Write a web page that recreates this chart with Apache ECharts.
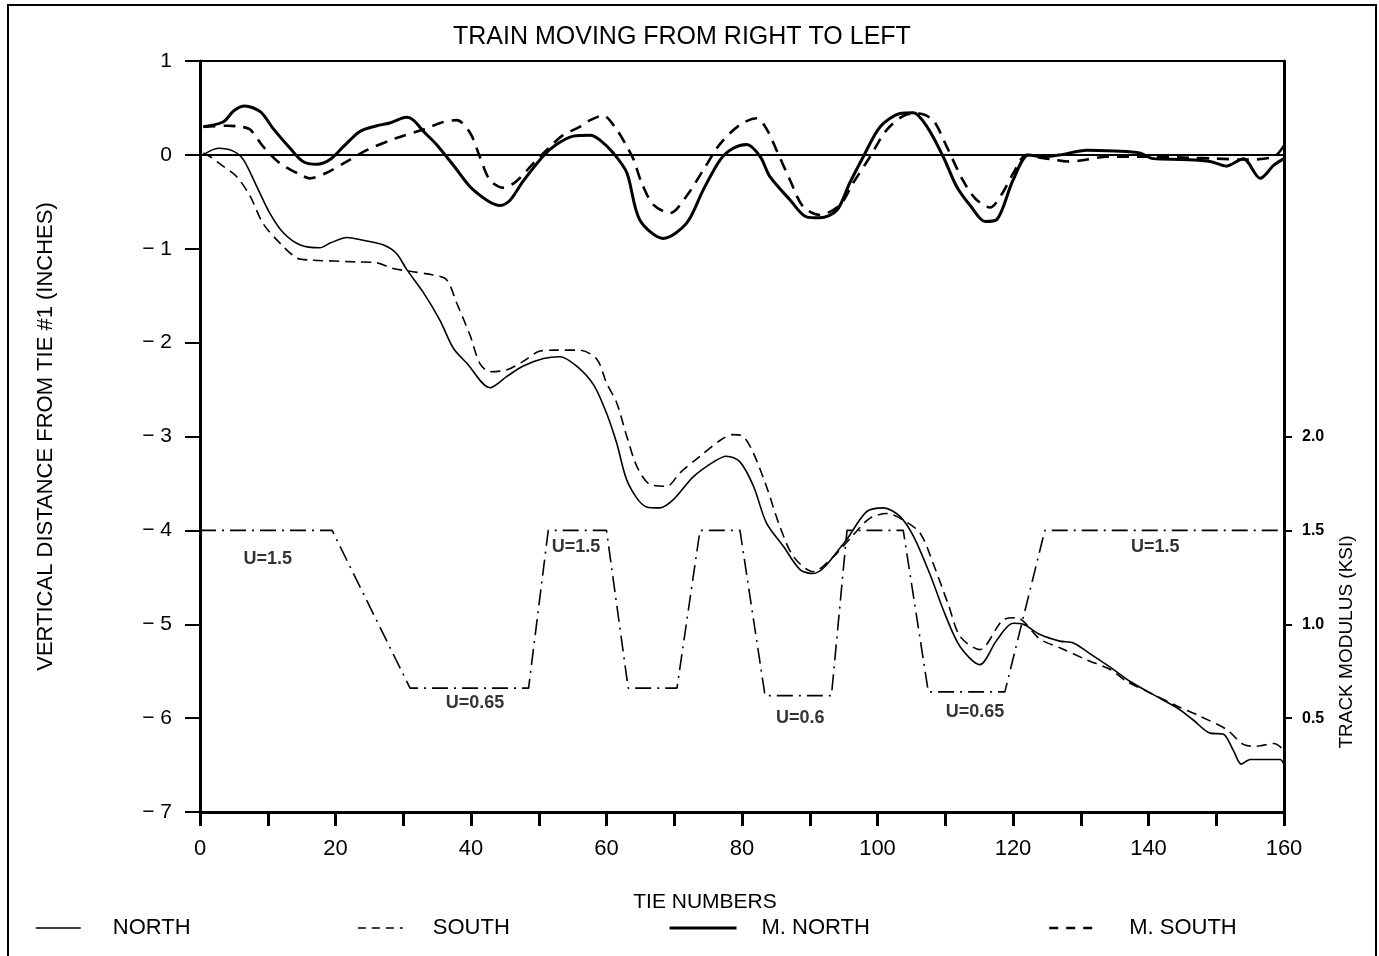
<!DOCTYPE html>
<html>
<head>
<meta charset="utf-8">
<script src="https://cdn.jsdelivr.net/npm/echarts@6/dist/echarts.min.js"></script>
<style>
  html, body { margin: 0; padding: 0; background: #fff; }
  #chart { width: 1379px; height: 956px; }
</style>
</head>
<body>
<div id="chart"></div>
<script>
// tie number / vertical distance (inches) pairs
var north = [[0.5, 0.0], [2.7, 0.07], [4.9, 0.04], [6.4, -0.05], [8.4, -0.34], [10.3, -0.62], [12.3, -0.83], [14.8, -0.96], [17.7, -0.99], [19.2, -0.94], [21.7, -0.88], [24.1, -0.91], [27.1, -0.96], [29, -1.05], [30.5, -1.22], [33, -1.47], [35.4, -1.76], [37.4, -2.06], [39.4, -2.22], [42.8, -2.48], [45.3, -2.36], [47.7, -2.25], [50.7, -2.17], [53.1, -2.15], [55.6, -2.25], [58.1, -2.45], [60, -2.75], [61.5, -3.07], [63.2, -3.5], [65.9, -3.75], [67.9, -3.76], [69.9, -3.67], [72.8, -3.43], [75.8, -3.27], [77.7, -3.21], [79.7, -3.27], [81.7, -3.53], [83.6, -3.92], [86.1, -4.17], [88.6, -4.42], [90.5, -4.46], [95, -4.14], [98.4, -3.8], [100.9, -3.76], [103.3, -3.85], [105.3, -4.06], [107.7, -4.46], [110, -4.9], [112.2, -5.24], [115.1, -5.43], [117.6, -5.17], [120, -4.99], [121.5, -5.0], [124, -5.11], [126.9, -5.18], [128.9, -5.2], [131.9, -5.34], [134.8, -5.48], [137.3, -5.61], [140.7, -5.75], [144.2, -5.89], [146.6, -6.02], [149.1, -6.16], [151, -6.17], [152.5, -6.34], [153.7, -6.49], [155, -6.44], [159.4, -6.44], [160, -6.49]]
var south = [[0.5, 0.02], [1.5, -0.02], [3.4, -0.12], [5.4, -0.23], [7.4, -0.44], [9.3, -0.73], [11.8, -0.94], [14.3, -1.1], [16.2, -1.12], [23.1, -1.14], [26.1, -1.15], [28.5, -1.21], [31, -1.24], [34.4, -1.28], [36.4, -1.33], [37.9, -1.58], [39.9, -1.93], [41.3, -2.22], [42.8, -2.31], [45.3, -2.29], [47.7, -2.2], [50.2, -2.09], [52.6, -2.08], [56.1, -2.08], [58.6, -2.18], [60, -2.43], [61.5, -2.64], [63, -3.0], [64.5, -3.32], [66.4, -3.51], [68.9, -3.53], [70.8, -3.39], [73.8, -3.21], [76.8, -3.04], [78.7, -2.98], [80.2, -3.0], [81.7, -3.18], [83.6, -3.53], [85.6, -3.96], [87.6, -4.28], [90.5, -4.44], [93.5, -4.28], [96.4, -4.05], [98.9, -3.87], [101.4, -3.82], [103.8, -3.89], [106.3, -4.03], [108.2, -4.35], [110.5, -4.8], [112.2, -5.13], [115.1, -5.27], [118.6, -4.95], [120.5, -4.93], [124, -5.16], [126.9, -5.25], [130.9, -5.38], [134.3, -5.48], [136.8, -5.61], [140.2, -5.73], [144.2, -5.87], [147.6, -5.98], [151.5, -6.12], [154, -6.28], [156, -6.3], [158.5, -6.27], [160, -6.34]]
var mNorth = [[0.5, 0.3], [3.4, 0.35], [5, 0.47], [6.6, 0.52], [8.9, 0.46], [10.8, 0.28], [13.3, 0.07], [15.2, -0.07], [17.2, -0.1], [19.2, -0.05], [21.2, 0.09], [23.6, 0.25], [26.1, 0.31], [28, 0.34], [30.5, 0.4], [31.5, 0.37], [33, 0.25], [34.9, 0.11], [37.4, -0.11], [40.3, -0.37], [44.3, -0.54], [45.8, -0.48], [47.7, -0.28], [50.7, -0.01], [52.6, 0.11], [55.1, 0.2], [57.6, 0.21], [59, 0.16], [61, 0.02], [63, -0.19], [64.9, -0.69], [68.4, -0.89], [71.8, -0.73], [74.3, -0.37], [76.8, -0.05], [78.7, 0.07], [80.7, 0.11], [82.7, -0.02], [84.1, -0.23], [87.1, -0.48], [89.5, -0.66], [91.5, -0.67], [94, -0.59], [95.9, -0.3], [97.9, -0.02], [100.4, 0.3], [103.3, 0.44], [105.3, 0.45], [107.3, 0.3], [109.7, -0.02], [111.7, -0.34], [113.8, -0.55], [115.9, -0.71], [117.6, -0.69], [120, -0.27], [122.3, 0.0], [124.5, -0.02], [127, 0.0], [130.9, 0.05], [135, 0.04], [138.7, 0.02], [140.7, -0.04], [145, -0.05], [149.1, -0.07], [151.5, -0.12], [154, -0.04], [156.5, -0.25], [158.5, -0.11], [160, -0.04]]
var mSouth = [[0.5, 0.3], [4, 0.31], [6, 0.3], [7.4, 0.27], [9.3, 0.09], [11.8, -0.09], [14.8, -0.21], [16.2, -0.25], [18.7, -0.19], [21.7, -0.07], [24.6, 0.05], [29, 0.18], [33, 0.27], [35.9, 0.35], [37.9, 0.37], [39.9, 0.23], [41.3, -0.02], [42.8, -0.27], [44.8, -0.35], [46.7, -0.28], [49.2, -0.09], [51.7, 0.09], [53.6, 0.21], [56.1, 0.3], [57.6, 0.37], [59.5, 0.42], [61.5, 0.27], [63, 0.09], [64, -0.05], [65.2, -0.3], [66.9, -0.53], [69.4, -0.62], [71.8, -0.44], [74.3, -0.16], [76.8, 0.12], [79.7, 0.32], [82.2, 0.39], [83.6, 0.28], [85.1, 0.05], [87.1, -0.27], [89, -0.55], [91.5, -0.64], [94.5, -0.53], [96.4, -0.3], [98.9, -0.02], [101.4, 0.27], [104.3, 0.43], [106, 0.44], [108.2, 0.37], [110.2, 0.09], [112.6, -0.27], [114.5, -0.47], [116.6, -0.56], [118.5, -0.4], [120, -0.2], [122, 0.0], [124, -0.03], [126, -0.05], [128, -0.07], [130, -0.06], [134, -0.02], [140, -0.02], [146, -0.03], [150, -0.04], [154, -0.05], [158.5, -0.02], [160, 0.1]]
// track modulus (ksi), right axis
var modulus = [[0, 1.5], [19.5, 1.5], [31, 0.66], [48.5, 0.66], [51.4, 1.5], [60, 1.5], [63.2, 0.66], [70.4, 0.66], [73.8, 1.5], [79.7, 1.5], [83.4, 0.62], [93.2, 0.62], [95.5, 1.5], [103.8, 1.5], [107.5, 0.64], [118.8, 0.64], [124.7, 1.5], [160, 1.5]]
var modulusNotes = [['U=1.5', 10, 1.35], ['U=0.65', 40.6, 0.58], ['U=1.5', 55.5, 1.41], ['U=0.6', 88.6, 0.5], ['U=0.65', 114.4, 0.53], ['U=1.5', 141, 1.41]]

var xLabels = [0, 20, 40, 60, 80, 100, 120, 140, 160]
var rightLabels = [0.5, 1.0, 1.5, 2.0]

var font = 'Liberation Sans'
var chart = echarts.init(document.getElementById('chart'))

function legendFor(name, left, width, pad, lineWidth, dash) {
  return {
    data: [name],
    left: left,
    top: 917,
    padding: 0,
    itemWidth: width,
    itemHeight: 22,
    selectedMode: false,
    itemStyle: { opacity: 0, borderWidth: 0 },
    lineStyle: { width: lineWidth, type: dash, color: '#000' },
    textStyle: { fontFamily: font, fontSize: 22, color: '#000', padding: [0, 0, 0, pad] }
  }
}

var option = {
  animation: false,
  backgroundColor: '#fff',
  title: {
    text: 'TRAIN MOVING FROM RIGHT TO LEFT',
    left: 448,
    top: 20,
    textStyle: { fontFamily: font, fontSize: 25, fontWeight: 'normal', color: '#000' }
  },
  legend: [
    legendFor('NORTH', 35, 45, 27, 1.6, 'solid'),
    legendFor('SOUTH', 357, 45, 25, 1.6, [8, 6]),
    legendFor('M. NORTH', 668, 67, 20, 3, 'solid'),
    legendFor('M. SOUTH', 1048, 47, 28, 2.4, [9, 8])
  ],
  grid: {
    left: 200,
    right: 95,
    top: 61,
    bottom: 144,
    show: true,
    borderColor: '#000',
    borderWidth: 2
  },
  xAxis: {
    type: 'value',
    min: 0,
    max: 160,
    interval: 10,
    name: 'TIE NUMBERS',
    nameLocation: 'middle',
    nameGap: 80,
    nameTextStyle: { fontFamily: font, fontSize: 21, color: '#000', padding: [0, 74, 0, 0] },
    axisLine: { onZero: false, lineStyle: { color: '#000', width: 3 } },
    axisTick: { length: 14, lineStyle: { color: '#000', width: 3 } },
    axisLabel: {
      customValues: xLabels,
      margin: 26,
      fontFamily: font,
      fontSize: 22,
      color: '#000'
    },
    splitLine: { show: false }
  },
  yAxis: [{
    type: 'value',
    min: -7,
    max: 1,
    interval: 1,
    name: 'VERTICAL DISTANCE FROM TIE #1 (INCHES)',
    nameLocation: 'middle',
    nameGap: 143,
    nameTextStyle: { fontFamily: font, fontSize: 22, color: '#000' },
    axisLine: { onZero: false, lineStyle: { color: '#000', width: 3 } },
    axisTick: { length: 15, lineStyle: { color: '#000', width: 2 } },
    axisLabel: {
      margin: 28,
      fontFamily: font,
      fontSize: 21,
      color: '#000',
      formatter: function (v) { return v < 0 ? '\u2212 ' + (-v) : String(v) }
    },
    splitLine: { show: false }
  }, {
    type: 'value',
    min: 0,
    max: 4,
    interval: 0.5,
    position: 'right',
    axisLine: { onZero: false, lineStyle: { color: '#000', width: 3 } },
    axisTick: { customValues: rightLabels, length: 8, lineStyle: { color: '#000', width: 2 } },
    axisLabel: {
      customValues: rightLabels,
      margin: 18,
      fontFamily: font,
      fontSize: 16,
      fontWeight: 'bold',
      color: '#000',
      formatter: function (v) { return v.toFixed(1) }
    },
    splitLine: { show: false }
  }],
  graphic: [{
    type: 'rect',
    shape: { x: 8, y: 5, width: 1368, height: 953 },
    style: { fill: 'none', stroke: '#000', lineWidth: 2 },
    silent: true
  }, {
    type: 'text',
    x: 1347,
    y: 642,
    rotation: Math.PI / 2,
    style: {
      text: 'TRACK MODULUS (KSI)',
      fontFamily: font,
      fontSize: 19,
      fill: '#000',
      align: 'center',
      verticalAlign: 'middle'
    },
    silent: true
  }],
  series: [{
    name: 'NORTH',
    type: 'line',
    data: north,
    smooth: 0.3,
    symbol: 'none',
    lineStyle: { color: '#000', width: 1.6 },
    itemStyle: { color: '#000' }
  }, {
    name: 'SOUTH',
    type: 'line',
    data: south,
    smooth: 0.3,
    symbol: 'none',
    lineStyle: { color: '#000', width: 1.6, type: [10, 6] },
    itemStyle: { color: '#000' }
  }, {
    name: 'M. NORTH',
    type: 'line',
    data: mNorth,
    smooth: 0.3,
    symbol: 'none',
    lineStyle: { color: '#000', width: 3 },
    itemStyle: { color: '#000' },
    markLine: {
      silent: true,
      symbol: 'none',
      label: { show: false },
      lineStyle: { color: '#000', width: 2, type: 'solid' },
      data: [{ yAxis: 0 }]
    }
  }, {
    name: 'M. SOUTH',
    type: 'line',
    data: mSouth,
    smooth: 0.3,
    symbol: 'none',
    lineStyle: { color: '#000', width: 2.6, type: [12, 8] },
    itemStyle: { color: '#000' }
  }, {
    name: 'TRACK MODULUS',
    type: 'line',
    yAxisIndex: 1,
    data: modulus,
    symbol: 'none',
    lineStyle: { color: '#000', width: 1.6, type: [16, 6, 2, 6] },
    itemStyle: { color: '#000' }
  }, {
    name: 'U',
    type: 'scatter',
    yAxisIndex: 1,
    symbolSize: 0,
    data: modulusNotes.map(function (d) { return { name: d[0], value: [d[1], d[2]] } }),
    label: {
      show: true,
      position: 'inside',
      formatter: '{b}',
      fontFamily: font,
      fontSize: 18,
      fontWeight: 'bold',
      color: '#000'
    }
  }]
}

chart.setOption(option)
</script>
</body>
</html>
